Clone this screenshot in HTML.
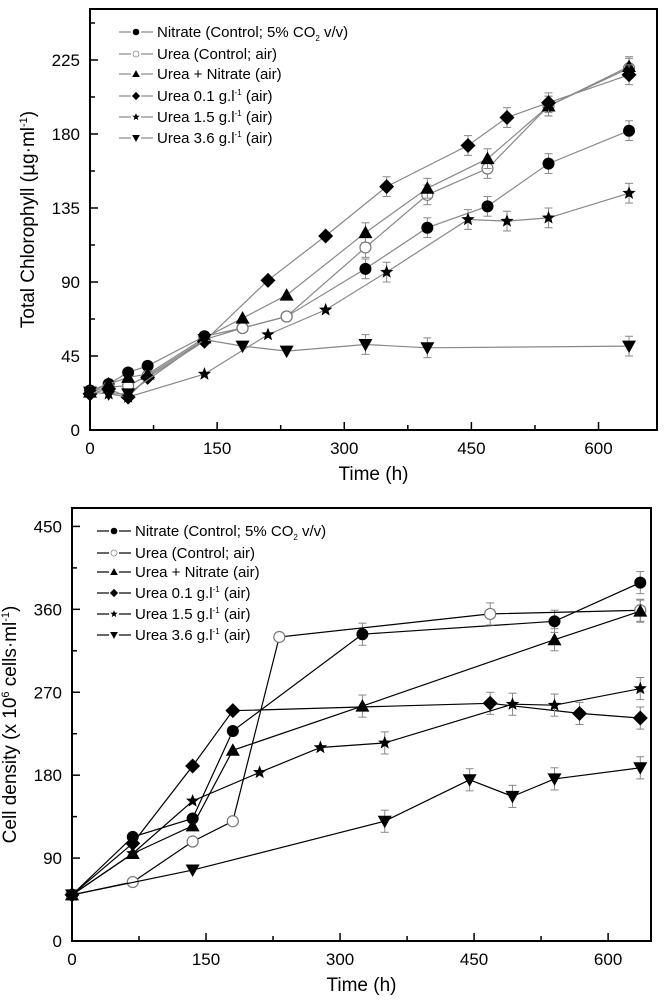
<!DOCTYPE html>
<html><head><meta charset="utf-8">
<style>
html,body{margin:0;padding:0;background:#fff;}
svg{display:block;font-family:"Liberation Sans",Arial,sans-serif;}
</style></head>
<body>
<svg id="s" width="671" height="1000" viewBox="0 0 671 1000"></svg>
<script>
// ---- Top chart data (Total Chlorophyll) ----
const topNames = ["Nitrate (Control; 5% CO\u2082 v/v)","Urea (Control; air)","Urea + Nitrate (air)","Urea 0.1 g.l-1 (air)","Urea 1.5 g.l-1 (air)","Urea 3.6 g.l-1 (air)"];
const topNitrateT = [0,22,45,68,135,180,232,325,398,469,541,636];
const topNitrateV = [24,28,35,39,57,62,69,98,123,136,162,182];
const topUreaT = [0,22,45,68,135,180,232,325,398,469,541,636];
const topUreaV = [23,26,27,33,55,62,69,111,143,159,197,220];
const topUNT = [0,22,45,68,135,180,232,325,398,469,541,636];
const topUNV = [23,28,32,34,56,68,82,120,147,165,197,221];
const topU01T = [0,22,45,68,135,210,278,350,446,492,541,636];
const topU01V = [22,25,20,32,54,91,118,148,173,190,199,216];
const topU15T = [0,22,45,135,210,278,350,446,492,541,636];
const topU15V = [23,22,20,34,58,73,96,128,127,129,144];
const topU36T = [0,22,45,135,180,232,325,398,636];
const topU36V = [23,22,22,55,51,48,52,50,51];
const topErr = 6;
const topYTicks = [0,45,90,135,180,225];
const topXTicks = [0,150,300,450,600];

// ---- Bottom chart data (Cell density) ----
const botNitrateT = [0,68,135,180,325,540,636];
const botNitrateV = [50,113,133,228,333,347,389];
const botUreaT = [0,68,135,180,232,468,636];
const botUreaV = [50,64,108,130,330,355,359];
const botUNT = [0,68,135,180,325,540,636];
const botUNV = [50,95,125,207,255,327,358];
const botU01T = [0,68,135,180,468,568,636];
const botU01V = [50,106,190,250,258,247,242];
const botU15T = [0,68,135,210,278,350,493,540,636];
const botU15V = [50,95,152,183,210,215,257,256,274];
const botU36T = [0,135,350,445,493,540,636];
const botU36V = [50,77,130,175,157,176,188];
const botErr = 12;
const botYTicks = [0,90,180,270,360,450];
const botXTicks = [0,150,300,450,600];

const NS="http://www.w3.org/2000/svg";
const svg=document.getElementById('s');
function mk(tag,attrs,parent){const e=document.createElementNS(NS,tag);for(const k in attrs)e.setAttribute(k,attrs[k]);(parent||svg).appendChild(e);return e;}

function marker(g,type,x,y){
  const r=6;
  let e;
  if(type==='circle'){e=mk('circle',{cx:x,cy:y,r:r,fill:'#000'},g);}
  else if(type==='ocircle'){e=mk('circle',{cx:x,cy:y,r:r-0.5,fill:'#fff',stroke:'#777','stroke-width':1.2},g);}
  else if(type==='tri'){e=mk('polygon',{points:`${x},${y-7} ${x+7},${y+5.5} ${x-7},${y+5.5}`,fill:'#000'},g);}
  else if(type==='itri'){e=mk('polygon',{points:`${x-7},${y-5.5} ${x+7},${y-5.5} ${x},${y+7}`,fill:'#000'},g);}
  else if(type==='dia'){e=mk('polygon',{points:`${x},${y-7.5} ${x+7.5},${y} ${x},${y+7.5} ${x-7.5},${y}`,fill:'#000'},g);}
  else {let p=[];for(let i=0;i<10;i++){const a=-Math.PI/2+i*Math.PI/5;const rr=i%2?3:7;p.push((x+rr*Math.cos(a)).toFixed(1)+','+(y+rr*Math.sin(a)).toFixed(1));}
    e=mk('polygon',{points:p.join(' '),fill:'#000'},g);}
  
  
}

function chart(cfg){
  const {L,T,R,B,xmax,ymax,xt,yt,series,lineCol,err,ylabel,legendY,legendX,name}=cfg;
  const sx=v=>L+(v/xmax)*(R-L);
  const sy=v=>B-(v/ymax)*(B-T);
  const g=mk('g',{});
  
  
  const box=mk('rect',{x:L,y:T,width:R-L,height:B-T,fill:'none',stroke:'#000','stroke-width':2},g);
  
  
  xt.forEach((v,i)=>{
    mk('line',{x1:sx(v),x2:sx(v),y1:B,y2:B-8,stroke:'#000','stroke-width':1.5},g);
    if(i<xt.length-1){const m=v+(xt[1]-xt[0])/2;mk('line',{x1:sx(m),x2:sx(m),y1:B,y2:B-5,stroke:'#000','stroke-width':1.5},g);}
    const t=mk('text',{x:sx(v),y:B+24,'text-anchor':'middle','font-size':17,fill:'#000'},g);t.textContent=v;
    
    
  });
  yt.forEach((v,i)=>{
    mk('line',{x1:L,x2:L+8,y1:sy(v),y2:sy(v),stroke:'#000','stroke-width':1.5},g);
    const m=v+(yt[1]-yt[0])/2; if(sy(m)>T+2) mk('line',{x1:L,x2:L+5,y1:sy(m),y2:sy(m),stroke:'#000','stroke-width':1.5},g);
    const t=mk('text',{x:L-10,y:sy(v)+6,'text-anchor':'end','font-size':17,fill:'#000'},g);t.textContent=v;
    
    
  });
  const xl=mk('text',{x:(L+R)/2,y:B+50,'text-anchor':'middle','font-size':19,fill:'#000'},g);xl.textContent='Time (h)';
  
  
  const yl=mk('text',{x:0,y:0,'text-anchor':'middle','font-size':19,fill:'#000',transform:`translate(${L-56},${(T+B)/2}) rotate(-90)`},g);
  yl.innerHTML=ylabel;
  
  
  series.forEach((s,si)=>{
    const sg=mk('g',{},g);
    
    
    const pts=s.t.map((t,i)=>sx(t).toFixed(1)+','+sy(s.v[i]).toFixed(1)).join(' ');
    mk('polyline',{points:pts,fill:'none',stroke:lineCol,'stroke-width':1.2},sg);
    s.t.forEach((t,i)=>{
      if(t>=300){const x=sx(t),y1=sy(s.v[i]+err),y2=sy(s.v[i]-err);
        mk('line',{x1:x,x2:x,y1:y1,y2:y2,stroke:'#888','stroke-width':1},sg);
        mk('line',{x1:x-4,x2:x+4,y1:y1,y2:y1,stroke:'#888','stroke-width':1},sg);
        mk('line',{x1:x-4,x2:x+4,y1:y2,y2:y2,stroke:'#888','stroke-width':1},sg);}
      marker(sg,s.m,sx(t),sy(s.v[i]));
    });
    const ly=legendY[si];
    const lg=mk('g',{},g);
    
    
    mk('line',{x1:legendX,x2:legendX+12,y1:ly,y2:ly,stroke:lineCol,'stroke-width':1.2},lg);
    mk('line',{x1:legendX+22,x2:legendX+34,y1:ly,y2:ly,stroke:lineCol,'stroke-width':1.2},lg);
    const mg=mk('g',{transform:`translate(${legendX+17},${ly}) scale(0.55) translate(${-(legendX+17)},${-ly})`},lg);
    marker(mg,s.m,legendX+17,ly);
    const tx=mk('text',{x:legendX+38,y:ly+5,'font-size':15,fill:'#000'},lg);
    tx.innerHTML=s.label;
  });
}
const labels=[
 'Nitrate (Control; 5% CO<tspan font-size="8" dy="4">2</tspan><tspan dy="-4"> v/v)</tspan>',
 'Urea (Control; air)','Urea + Nitrate (air)',
 'Urea 0.1 g.l<tspan font-size="8" dy="-6">-1</tspan><tspan dy="6"> (air)</tspan>',
 'Urea 1.5 g.l<tspan font-size="8" dy="-6">-1</tspan><tspan dy="6"> (air)</tspan>',
 'Urea 3.6 g.l<tspan font-size="8" dy="-6">-1</tspan><tspan dy="6"> (air)</tspan>'];
chart({name:'chlorophyll-chart',L:90,T:9,R:657,B:430,xmax:669,ymax:256,xt:topXTicks,yt:topYTicks,lineCol:'#888',err:topErr,
 ylabel:'Total Chlorophyll (<tspan font-family="DejaVu Sans">\u03bc</tspan>g\u00b7ml<tspan font-size="11" dy="-7">-1</tspan><tspan dy="7">)</tspan>',
 legendX:119,legendY:[32,54,74,96,117,138],
 series:[
  {key:'nitrate',m:'circle',t:topNitrateT,v:topNitrateV,label:labels[0]},
  {key:'urea-control',m:'ocircle',t:topUreaT,v:topUreaV,label:labels[1]},
  {key:'urea-nitrate',m:'tri',t:topUNT,v:topUNV,label:labels[2]},
  {key:'urea-0-1',m:'dia',t:topU01T,v:topU01V,label:labels[3]},
  {key:'urea-1-5',m:'star',t:topU15T,v:topU15V,label:labels[4]},
  {key:'urea-3-6',m:'itri',t:topU36T,v:topU36V,label:labels[5]}]});
chart({name:'cell-density-chart',L:72,T:508,R:651,B:941,xmax:648,ymax:470,xt:botXTicks,yt:botYTicks,lineCol:'#000',err:botErr,
 ylabel:'Cell density (x 10<tspan font-size="11" dy="-7">6</tspan><tspan dy="7"> cells\u00b7ml</tspan><tspan font-size="11" dy="-7">-1</tspan><tspan dy="7">)</tspan>',
 legendX:97,legendY:[531,553,572,593,614,635],
 series:[
  {key:'nitrate',m:'circle',t:botNitrateT,v:botNitrateV,label:labels[0]},
  {key:'urea-control',m:'ocircle',t:botUreaT,v:botUreaV,label:labels[1]},
  {key:'urea-nitrate',m:'tri',t:botUNT,v:botUNV,label:labels[2]},
  {key:'urea-0-1',m:'dia',t:botU01T,v:botU01V,label:labels[3]},
  {key:'urea-1-5',m:'star',t:botU15T,v:botU15V,label:labels[4]},
  {key:'urea-3-6',m:'itri',t:botU36T,v:botU36V,label:labels[5]}]});
</script>
</body></html>
